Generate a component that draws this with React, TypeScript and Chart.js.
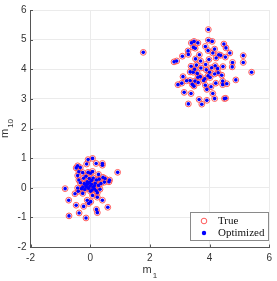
import React, { useEffect, useRef } from "react";
import { Chart, registerables } from "chart.js";

Chart.register(...registerables);

const clusterA: [number, number][] = [
  [1.78, 4.57], [3.96, 5.34], [2.81, 4.25], [5.13, 4.46], [5.13, 4.23], [5.41, 3.9],
  [4.88, 3.64], [3.29, 2.83], [3.74, 2.82], [3.65, 2.98], [3.91, 2.95], [4.17, 3.01],
  [4.54, 3.02], [4.5, 3.01], [3.15, 3.22], [3.38, 3.18], [4.11, 3.18], [2.94, 3.48],
  [3.07, 3.53], [3.23, 3.61], [3.35, 3.62], [3.51, 3.6], [3.48, 3.43], [3.42, 3.49],
  [3.86, 3.46], [3.91, 3.32], [4.05, 3.41], [4.21, 3.53], [4.44, 3.6], [4.58, 3.51],
  [4.44, 3.48], [3.11, 3.75], [3.61, 3.73], [3.69, 3.75], [3.84, 3.68], [3.95, 3.78],
  [4.02, 3.72], [4.17, 3.84], [4.29, 3.88], [4.41, 3.8], [3.45, 3.9], [3.59, 3.86],
  [3.35, 3.91], [3.38, 4.1], [3.56, 4.14], [3.71, 4.04], [3.87, 4.16], [3.89, 3.98],
  [4.07, 4.05], [4.19, 4.12], [4.27, 4.02], [4.45, 4.09], [4.76, 4.08], [4.77, 4.23],
  [3.98, 4.33], [4.22, 4.38], [4.37, 4.47], [4.53, 4.41], [4.31, 4.49], [4.11, 4.55],
  [4.17, 4.68], [3.95, 4.63], [3.86, 4.77], [4.48, 4.85], [4.55, 4.72], [4.68, 4.55],
  [3.96, 4.98], [4.09, 4.94], [3.39, 4.89], [3.48, 4.94], [3.61, 4.89], [3.46, 4.74],
  [3.52, 4.71], [3.28, 4.62], [3.09, 4.44], [3.29, 4.5], [2.9, 4.28], [3.66, 4.49],
  [3.53, 4.35], [3.7, 4.28], [3.62, 3.55], [3.8, 3.62], [4.0, 3.9], [3.5, 4.0],
];

const clusterB: [number, number][] = [
  [-0.84, -0.03], [-0.72, -0.42], [-0.71, -0.95], [-0.14, -1.02], [-0.37, -0.85],
  [-0.22, -0.63], [-0.47, -0.59], [0.21, -0.73], [0.24, -0.84], [0.59, -0.66],
  [0.41, -0.42], [-0.05, -0.53], [0.02, -0.47], [-0.1, -0.42], [0.08, -0.26],
  [0.24, -0.32], [0.24, -0.17], [-0.25, -0.19], [-0.51, -0.2], [-0.4, -0.12],
  [-0.42, -0.01], [-0.33, 0.17], [-0.2, 0.14], [-0.14, 0.04], [-0.09, 0.12],
  [-0.05, -0.02], [0.0, 0.06], [0.04, 0.12], [0.14, 0.07], [0.15, -0.04],
  [-0.18, -0.06], [-0.29, -0.03], [0.28, 0.08], [0.36, 0.14], [0.48, 0.19],
  [0.63, 0.2], [0.65, 0.26], [0.5, 0.31], [0.43, 0.35], [0.3, 0.29],
  [0.21, 0.26], [0.1, 0.33], [-0.03, 0.31], [-0.14, 0.39], [0.01, 0.49],
  [-0.07, 0.52], [0.08, 0.55], [-0.25, 0.51], [-0.42, 0.41], [-0.38, 0.54],
  [-0.33, 0.68], [-0.47, 0.67], [-0.42, 0.74], [-0.12, 0.8], [-0.07, 0.95],
  [0.08, 0.99], [0.2, 0.82], [0.41, 0.82], [0.41, 0.76], [0.92, 0.52],
  [-0.22, 0.32], [0.28, 0.45], [-0.1, 0.2], [0.17, 0.15], [0.01, -0.12],
  [-0.38, 0.26], [-0.08, 0.0], [0.06, -0.08], [-0.15, 0.1], [0.1, 0.02],
  [-0.02, 0.18], [0.2, -0.1], [-0.25, 0.02], [0.05, 0.25], [0.33, -0.05],
];

const trueX: number[] = [...clusterA, ...clusterB].map((p) => p[0]);
const trueY: number[] = [...clusterA, ...clusterB].map((p) => p[1]);
const xTicks: number[] = [-2, 0, 2, 4, 6];
const yTicks: number[] = [-2, -1, 0, 1, 2, 3, 4, 5, 6];
const seriesLabels: string[] = ["True", "Optimized"];

const SANS = "'Liberation Sans', Arial, sans-serif";
const SERIF = "'Liberation Serif', 'Times New Roman', serif";

export default function App() {
  const ref = useRef<HTMLCanvasElement | null>(null);

  useEffect(() => {
    document.body.style.margin = "0";
    const canvas = ref.current;
    if (!canvas) return;
    const pts = trueX.map((x, i) => ({ x, y: trueY[i] }));

    const decor = {
      id: "decor",
      afterDraw(chart: any) {
        const { ctx, chartArea, scales } = chart;
        const xs = scales.x;
        const ys = scales.y;
        ctx.save();
        // inward ticks
        ctx.strokeStyle = "#555";
        ctx.lineWidth = 1;
        ctx.beginPath();
        xTicks.forEach((v) => {
          const px = Math.round(xs.getPixelForValue(v)) + 0.5;
          ctx.moveTo(px, chartArea.bottom);
          ctx.lineTo(px, chartArea.bottom - 2.5);
        });
        yTicks.forEach((v) => {
          const py = Math.round(ys.getPixelForValue(v)) + 0.5;
          ctx.moveTo(chartArea.left, py);
          ctx.lineTo(chartArea.left + 2.5, py);
        });
        ctx.stroke();

        // axis titles with subscripts
        ctx.fillStyle = "#333";
        ctx.textBaseline = "alphabetic";
        const cx = (chartArea.left + chartArea.right) / 2;
        ctx.font = `11px ${SANS}`;
        const mW = ctx.measureText("m").width;
        ctx.font = `8px ${SANS}`;
        const s1W = ctx.measureText("1").width;
        let sx = cx - (mW + s1W + 1) / 2;
        ctx.font = `11px ${SANS}`;
        ctx.fillText("m", sx, 273);
        ctx.font = `8px ${SANS}`;
        ctx.fillText("1", sx + mW + 1, 278);

        const cy = (chartArea.top + chartArea.bottom) / 2;
        ctx.font = `8px ${SANS}`;
        const s10W = ctx.measureText("10").width;
        ctx.translate(8, cy);
        ctx.rotate(-Math.PI / 2);
        sx = -(mW + s10W + 1) / 2;
        ctx.font = `11px ${SANS}`;
        ctx.fillText("m", sx, 0);
        ctx.font = `8px ${SANS}`;
        ctx.fillText("10", sx + mW + 1, 5);
        ctx.setTransform(1, 0, 0, 1, 0, 0);

        // legend
        const lx = 190.5, ly = 212.5, lw = 78, lh = 28;
        ctx.fillStyle = "#fff";
        ctx.fillRect(lx, ly, lw, lh);
        ctx.strokeStyle = "#8a8a8a";
        ctx.lineWidth = 1;
        ctx.strokeRect(lx, ly, lw, lh);
        ctx.beginPath();
        ctx.strokeStyle = "#ff5a5a";
        ctx.arc(204, 221, 2.8, 0, Math.PI * 2);
        ctx.stroke();
        ctx.beginPath();
        ctx.fillStyle = "#0000ff";
        ctx.arc(204, 233, 2.2, 0, Math.PI * 2);
        ctx.fill();
        ctx.fillStyle = "#111";
        ctx.font = `11px ${SERIF}`;
        ctx.textBaseline = "middle";
        ctx.fillText(seriesLabels[0], 218, 221);
        ctx.fillText(seriesLabels[1], 218, 233);
        ctx.restore();
      },
    };

    const chart = new Chart(canvas, {
      type: "scatter",
      data: {
        datasets: [
          {
            label: seriesLabels[1],
            data: pts,
            pointRadius: 1.8,
            pointBackgroundColor: "#0000ff",
            pointBorderWidth: 0,
            pointBorderColor: "#0000ff",
          },
          {
            label: seriesLabels[0],
            data: pts,
            pointRadius: 2.9,
            pointBackgroundColor: "rgba(0,0,0,0)",
            pointBorderColor: "#ff5a5a",
            pointBorderWidth: 1,
          },
        ],
      },
      options: {
        responsive: false,
        animation: false,
        layout: { padding: { left: 0, top: 3, right: 3, bottom: 0 } },
        plugins: { legend: { display: false }, tooltip: { enabled: false } },
        scales: {
          x: {
            type: "linear",
            min: -2,
            max: 6,
            afterBuildTicks: (s: any) => {
              s.ticks = xTicks.map((v) => ({ value: v }));
            },
            afterFit: (s: any) => {
              s.height = 34;
            },
            grid: { color: "#ebebeb", drawTicks: false },
            border: { display: true, color: "#555", width: 1 },
            ticks: { padding: 5, color: "#333", font: { family: SANS, size: 10 } },
          },
          y: {
            type: "linear",
            min: -2,
            max: 6,
            afterBuildTicks: (s: any) => {
              s.ticks = yTicks.map((v) => ({ value: v }));
            },
            afterFit: (s: any) => {
              s.width = 30.5;
            },
            grid: { color: "#ebebeb", drawTicks: false },
            border: { display: true, color: "#555", width: 1 },
            ticks: { padding: 4, color: "#333", font: { family: SANS, size: 10 } },
          },
        },
      },
      plugins: [decor],
    } as any);
    return () => chart.destroy();
  }, []);

  return <canvas ref={ref} width={277} height={281} style={{ display: "block" }} />;
}
